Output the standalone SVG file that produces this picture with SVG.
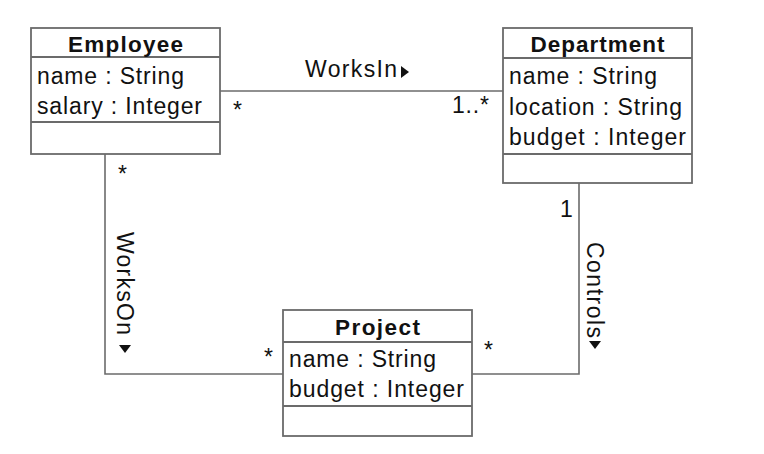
<svg xmlns="http://www.w3.org/2000/svg" width="764" height="454" viewBox="0 0 764 454">
<style>
.box{fill:#fff;stroke:#6b6b6b;stroke-width:1.8}
.sep{stroke:#6b6b6b;stroke-width:1.8}
.t{font-family:"Liberation Sans",Arial,Helvetica,sans-serif;font-size:23px;fill:#111}
.b{font-weight:bold;text-anchor:middle;font-size:22.5px}
.conn{fill:none;stroke:#6b6b6b;stroke-width:1.6}
.tri{fill:#111}
</style>
<rect width="764" height="454" fill="#fff"/>
<g id="connectors">
<path class="conn" d="M220 91 H503"/>
<path class="conn" d="M105 154 V374 H283"/>
<path class="conn" d="M579 183 V374 H472"/>
<text class="t" x="305" y="77" textLength="92" lengthAdjust="spacing">WorksIn</text>
<polygon class="tri" points="401,66 401,78 409,72"/>
<text class="t" x="233" y="118">*</text>
<text class="t" x="452" y="113" textLength="37" lengthAdjust="spacing">1..*</text>
<text class="t" x="118" y="182">*</text>
<text class="t" transform="translate(117,232) rotate(90)" x="0" y="0" textLength="103" lengthAdjust="spacing">WorksOn</text>
<polygon class="tri" points="119,345 131,345 125,353"/>
<text class="t" x="560" y="217">1</text>
<text class="t" transform="translate(587,242) rotate(90)" x="0" y="0" textLength="96" lengthAdjust="spacing">Controls</text>
<polygon class="tri" points="589,341 601,341 595,349"/>
<text class="t" x="264" y="365">*</text>
<text class="t" x="484" y="358">*</text>
</g>
<g id="Employee">
<rect class="box" x="31" y="28" width="189" height="126"/>
<line class="sep" x1="31" y1="57" x2="220" y2="57"/>
<line class="sep" x1="31" y1="122" x2="220" y2="122"/>
<text class="t b" x="125.5" y="52" textLength="115" lengthAdjust="spacing">Employee</text>
<text class="t" x="37" y="84" textLength="147" lengthAdjust="spacing">name : String</text>
<text class="t" x="37" y="114" textLength="165" lengthAdjust="spacing">salary : Integer</text>
</g>
<g id="Department">
<rect class="box" x="503" y="28" width="189" height="155"/>
<line class="sep" x1="503" y1="58" x2="692" y2="58"/>
<line class="sep" x1="503" y1="154" x2="692" y2="154"/>
<text class="t b" x="597.5" y="52" textLength="134" lengthAdjust="spacing">Department</text>
<text class="t" x="509" y="84" textLength="148" lengthAdjust="spacing">name : String</text>
<text class="t" x="509" y="115" textLength="173" lengthAdjust="spacing">location : String</text>
<text class="t" x="509" y="145" textLength="177" lengthAdjust="spacing">budget : Integer</text>
</g>
<g id="Project">
<rect class="box" x="283" y="310" width="189" height="126"/>
<line class="sep" x1="283" y1="342" x2="472" y2="342"/>
<line class="sep" x1="283" y1="406" x2="472" y2="406"/>
<text class="t b" x="377.5" y="335" textLength="85" lengthAdjust="spacing">Project</text>
<text class="t" x="289" y="367" textLength="147" lengthAdjust="spacing">name : String</text>
<text class="t" x="289" y="397" textLength="175" lengthAdjust="spacing">budget : Integer</text>
</g>
</svg>
